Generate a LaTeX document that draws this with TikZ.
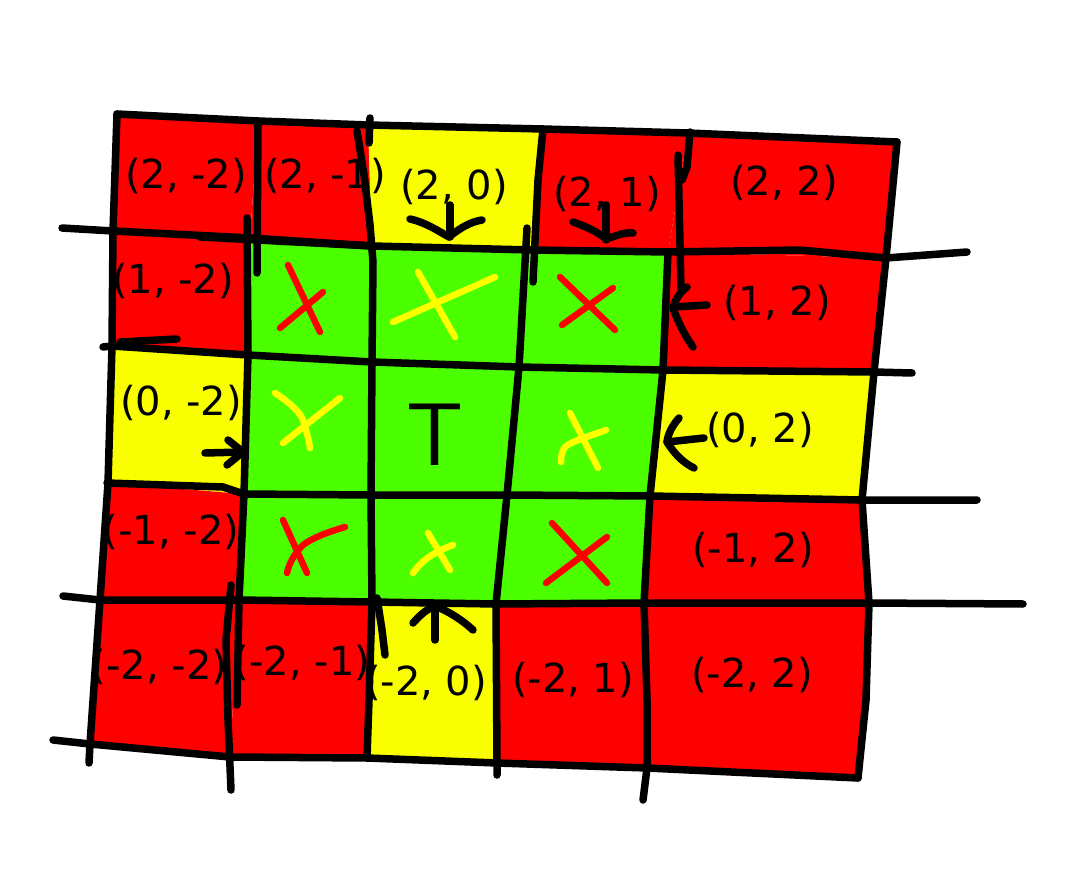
\documentclass[tikz,border=0pt]{standalone}
\usepackage{fontspec}
\setmainfont{DejaVu Sans}
\definecolor{cellred}{HTML}{FF0000}
\definecolor{cellyel}{HTML}{FAFF00}
\definecolor{cellgrn}{HTML}{4CFF00}
\definecolor{markred}{HTML}{FF0000}
\definecolor{markyel}{HTML}{FFFF00}
\begin{document}
\begin{tikzpicture}[x=1pt,y=-1pt,
  ink/.style={draw=black,line width=7.5pt,line cap=round,line join=round},
  redmark/.style={draw=markred,line width=6.5pt,line cap=round,line join=round},
  yelmark/.style={draw=markyel,line width=6.5pt,line cap=round,line join=round},
  lbl/.style={font=\fontsize{40}{48}\selectfont,inner sep=0pt,text=black},
  bigT/.style={font=\sffamily\fontsize{89}{95}\selectfont,inner sep=0pt,text=black},
]
\fill[white] (0,0) rectangle (1068,882);
\useasboundingbox (0,0) rectangle (1068,882);

% grid corners c<I><J>
\coordinate (c00) at (117,114); \coordinate (c01) at (258,121); \coordinate (c02) at (368,125);
\coordinate (c03) at (543,129); \coordinate (c04) at (688,133); \coordinate (c05) at (897,142);
\coordinate (c10) at (113,231); \coordinate (c11) at (250,238); \coordinate (c12) at (372,246);
\coordinate (c13) at (531,250); \coordinate (c14) at (668,252); \coordinate (c15) at (886,258);
\coordinate (c20) at (112,346); \coordinate (c21) at (248,355); \coordinate (c22) at (372,362);
\coordinate (c23) at (519,367); \coordinate (c24) at (663,370); \coordinate (c25) at (874,372);
\coordinate (c30) at (108,483); \coordinate (c31) at (244,494); \coordinate (c32) at (371,495);
\coordinate (c33) at (507,495); \coordinate (c34) at (650,496); \coordinate (c35) at (862,500);
\coordinate (c40) at (100,600); \coordinate (c41) at (239,600); \coordinate (c42) at (372,602);
\coordinate (c43) at (496,604); \coordinate (c44) at (644,603); \coordinate (c45) at (869,603);
\coordinate (c50) at (90,744);  \coordinate (c51) at (230,757); \coordinate (c52) at (367,758);
\coordinate (c53) at (497,763); \coordinate (c54) at (647,768); \coordinate (c55) at (858,778);

% cell fills
\fill[cellred] (c00)--(c01)--(c11)--(c10)--cycle;
\fill[cellred] (c01)--(c02)--(c12)--(c11)--cycle;
\fill[cellyel] (c02)--(c03)--(c13)--(c12)--cycle;
\fill[cellred] (c03)--(c04)--(c14)--(c13)--cycle;
\fill[cellred] (c04)--(c05)--(c15)--(c14)--cycle;
\fill[cellred] (c10)--(c11)--(c21)--(c20)--cycle;
\fill[cellgrn] (c11)--(c12)--(c22)--(c21)--cycle;
\fill[cellgrn] (c12)--(c13)--(c23)--(c22)--cycle;
\fill[cellgrn] (c13)--(c14)--(c24)--(c23)--cycle;
\fill[cellred] (c14)--(c15)--(c25)--(c24)--cycle;
\fill[cellyel] (c20)--(c21)--(c31)--(c30)--cycle;
\fill[cellgrn] (c21)--(c22)--(c32)--(c31)--cycle;
\fill[cellgrn] (c22)--(c23)--(c33)--(c32)--cycle;
\fill[cellgrn] (c23)--(c24)--(c34)--(c33)--cycle;
\fill[cellyel] (c24)--(c25)--(c35)--(c34)--cycle;
\fill[cellred] (c30)--(c31)--(c41)--(c40)--cycle;
\fill[cellgrn] (c31)--(c32)--(c42)--(c41)--cycle;
\fill[cellgrn] (c32)--(c33)--(c43)--(c42)--cycle;
\fill[cellgrn] (c33)--(c34)--(c44)--(c43)--cycle;
\fill[cellred] (c34)--(c35)--(c45)--(c44)--cycle;
\fill[cellred] (c40)--(c41)--(c51)--(c50)--cycle;
\fill[cellred] (c41)--(c42)--(c52)--(c51)--cycle;
\fill[cellyel] (c42)--(c43)--(c53)--(c52)--cycle;
\fill[cellred] (c43)--(c44)--(c54)--(c53)--cycle;
\fill[cellred] (c44)--(c45)--(c55)--(c54)--cycle;

% labels
\node[lbl] (l2m2) at (186,176) {(2, -2)};
\node[lbl] (l2m1) at (325,176) {(2, -1)};
\node[lbl] (l20)  at (454,187) {(2, 0)};
\node[lbl] (l21)  at (607,194) {(2, 1)};
\node[lbl] (l22)  at (784,183) {(2, 2)};
\node[lbl] (l1m2) at (173,281) {(1, -2)};
\node[lbl] (l12)  at (777,303) {(1, 2)};
\node[lbl] (l0m2) at (181,403) {(0, -2)};
\node[lbl] (l02)  at (760,430) {(0, 2)};
\node[lbl] (lm1m2) at (171,532) {(-1, -2)};
\node[lbl] (lm12) at (753,550) {(-1, 2)};
\node[lbl] (lm2m2) at (159,667) {(-2, -2)};
\node[lbl] (lm2m1) at (302,663) {(-2, -1)};
\node[lbl] (lm20) at (426,683) {(-2, 0)};
\node[lbl] (lm21) at (573,680) {(-2, 1)};
\node[lbl] (lm22) at (752,675) {(-2, 2)};
\node[bigT] (tee) at (435,435) {T};

% horizontal lines
\draw[ink] (c00)--(c01)--(c02)--(c03)--(c04)--(c05);
\draw[ink] (62,228)--(c10)--(c11)--(c12)--(c13)--(c14)--(800,250)--(c15)--(967,252);
\draw[ink] (200,237)--(c12);
\draw[ink] (103,347)--(c20)--(c21)--(c22)--(c23)--(c24)--(c25)--(912,373);
\draw[ink] (120,342)--(177,339);
\draw[ink] (107,483)--(223,487)--(c31)--(c32)--(c33)--(c34)--(c35)--(977,500);
\draw[ink] (63,596)--(c40)--(c41)--(c42)--(c43)--(c44)--(c45)--(1023,604);
\draw[ink] (53,740)--(c50)--(c51)--(c52)--(c53)--(c54)--(c55);

% vertical lines
\draw[ink] (c00)--(c10)--(c20)--(c30)--(c40)--(c50)--(89,763);
\draw[ink] (c01)--(257,273);
\draw[ink] (247,218)--(c21)--(c31)--(c41)--(237,705);
\draw[ink] (231,585)--(226,640)--(228,720)--(231,790);
\draw[ink] (357,131)--(364,175)--(370,225)--(373,262)--(c22)--(c32)--(c42)--(369,700)--(c52);
\draw[ink] (370,118)--(369,143);
\draw[ink] (377,598)--(382,630)--(385,655);
\draw[ink] (c03)--(538,180)--(533,282);
\draw[ink] (527,228)--(c23)--(c33)--(c43)--(c53)--(497,775);
\draw[ink] (690,132)--(687,167)--(682,180);
\draw[ink] (678,155)--(681,290);
\draw[ink] (c14)--(c24)--(c34)--(c44)--(647,700)--(c54)--(643,800);
\draw[ink] (c05)--(c15)--(c25)--(c35)--(c45)--(866,700)--(c55);

% arrows (hand drawn)
\draw[ink] (450,205)--(450,237);
\draw[ink] (410,219) .. controls (425,222) and (440,232) .. (449,237) .. controls (460,228) and (470,222) .. (482,220);
\draw[ink] (606,205)--(606,240);
\draw[ink] (573,222) .. controls (585,226) and (598,232) .. (606,239) .. controls (615,236) and (625,232) .. (633,233);
\draw[ink] (707,305)--(673,307);
\draw[ink] (687,287) .. controls (680,292) and (675,300) .. (673,308) .. controls (678,322) and (685,336) .. (693,347);
\draw[ink] (205,453)--(243,452);
\draw[ink] (228,440)--(243,452)--(227,465);
\draw[ink] (704,438)--(667,442);
\draw[ink] (679,418) .. controls (672,426) and (668,434) .. (667,442) .. controls (675,455) and (684,463) .. (694,468);
\draw[ink] (435,640)--(435,607);
\draw[ink] (413,623) .. controls (420,615) and (427,609) .. (435,606) .. controls (450,612) and (462,620) .. (473,630);

% crosses
\draw[redmark] (288,265)--(320,332);
\draw[redmark] (323,292)--(280,328);
\draw[yelmark] (418,272)--(455,337);
\draw[yelmark] (495,277)--(393,322);
\draw[redmark] (560,277)--(615,330);
\draw[redmark] (613,288)--(562,325);
\draw[yelmark] (275,393) .. controls (290,403) and (300,412) .. (303,420) .. controls (306,430) and (309,440) .. (310,448);
\draw[yelmark] (340,398)--(283,443);
\draw[yelmark] (570,413)--(598,468);
\draw[yelmark] (606,430) .. controls (590,436) and (575,440) .. (566,446) .. controls (562,450) and (561,456) .. (561,462);
\draw[redmark] (283,520)--(307,573);
\draw[redmark] (345,527) .. controls (328,532) and (312,538) .. (303,545) .. controls (295,553) and (289,563) .. (287,573);
\draw[yelmark] (428,533)--(450,570);
\draw[yelmark] (453,545) .. controls (445,548) and (438,551) .. (432,555) .. controls (424,560) and (418,566) .. (413,573);
\draw[redmark] (552,523)--(607,583);
\draw[redmark] (607,537)--(546,583);
\end{tikzpicture}
\end{document}
